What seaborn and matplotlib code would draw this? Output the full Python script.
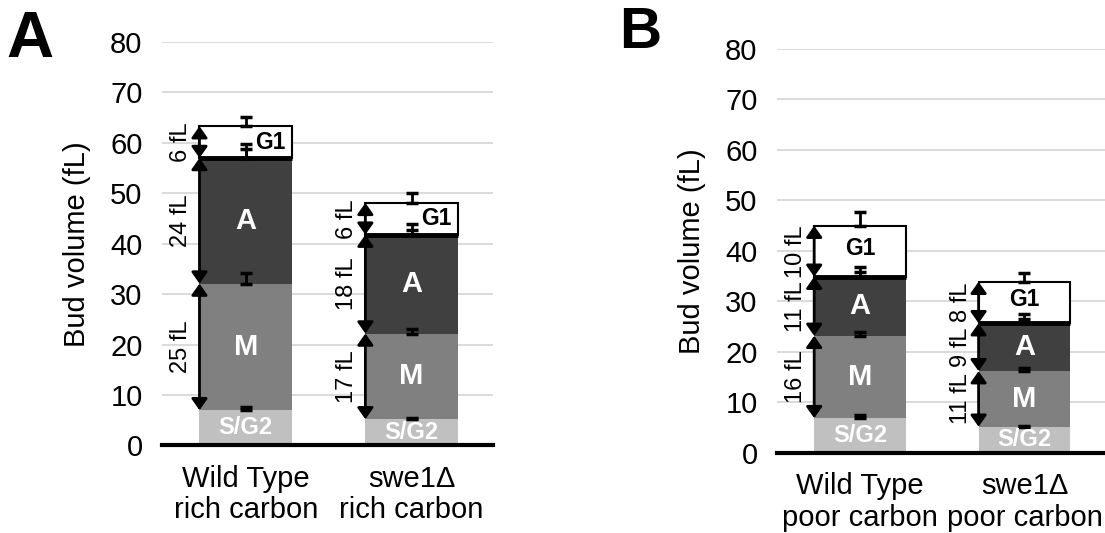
import numpy as np
import pandas as pd
import matplotlib
matplotlib.use("Agg")
import matplotlib.pyplot as plt
import seaborn as sns

# Panel A: rich carbon (cumulative tops of each phase)
strains_a = ["Wild Type\nrich carbon", "swe1\u0394\nrich carbon"]
sg2_top_a = [7.0, 5.2]
m_top_a = [32.1, 22.2]
a_top_a = [57.0, 41.8]
g1_top_a = [63.3, 48.1]
# error bar cap positions
sg2_cap_a = [7.7, 5.5]
m_cap_a = [34.1, 23.1]
a_cap_a = [59.8, 43.9]
a_cap2_a = [58.8, 42.8]
g1_cap_a = [65.1, 50.1]
fl_labels_a = [["25 fL", "24 fL", "6 fL"], ["17 fL", "18 fL", "6 fL"]]

# Panel B: poor carbon
strains_b = ["Wild Type\npoor carbon", "swe1\u0394\npoor carbon"]
sg2_top_b = [6.9, 5.2]
m_top_b = [23.2, 16.2]
a_top_b = [34.9, 25.7]
g1_top_b = [45.0, 33.9]
sg2_cap_b = [7.5, 5.4]
m_cap_b = [24.0, 16.9]
a_cap_b = [36.9, 27.5]
a_cap2_b = [35.9, 26.5]
g1_cap_b = [47.8, 35.6]
fl_labels_b = [["16 fL", "11 fL", "10 fL"], ["11 fL", "9 fL", "8 fL"]]

phases = ["S/G2", "M", "A", "G1"]
phase_colors = {"S/G2": "#c0c0c0", "M": "#808080", "A": "#404040", "G1": "#ffffff"}
bar_w = 0.558

sns.set_theme(style="whitegrid")
plt.rcParams["font.family"] = ["Liberation Sans", "DejaVu Sans"]
plt.rcParams["text.color"] = "black"
plt.rcParams["axes.labelcolor"] = "black"
plt.rcParams["xtick.color"] = "black"
plt.rcParams["ytick.color"] = "black"


def draw_panel(ax, strains, tops, caps, fl_labels, g1_right):
    n = len(strains)
    bottoms = [np.zeros(n)] + [np.array(t) for t in tops[:-1]]
    rows = []
    for p, b, t in zip(phases, bottoms, tops):
        for s, bb, tt in zip(strains, b, t):
            rows.append({"strain": s, "phase": p, "bottom": bb, "height": tt - bb, "top": tt})
    df = pd.DataFrame(rows)

    for p in phases:
        sub = df[df["phase"] == p]
        edge = "black" if p == "G1" else "none"
        lw = 1.5 if p == "G1" else 0
        sns.barplot(data=sub, x="strain", y="height", order=strains, bottom=sub["bottom"].values,
                    color=phase_colors[p], saturation=1, width=bar_w, errorbar=None,
                    edgecolor=edge, linewidth=lw, ax=ax, zorder=2)

    xs = np.arange(n)
    # thick line between A and G1
    ax.hlines(tops[2], xs - bar_w / 2, xs + bar_w / 2, colors="black", lw=3.5, zorder=3)

    # error bars (upper only)
    for top, cap in zip([tops[0], tops[1], tops[2], tops[2], tops[3]], caps):
        ax.errorbar(xs, top, yerr=[np.zeros(n), np.array(cap) - np.array(top)], fmt="none",
                    ecolor="black", elinewidth=2, capsize=4.5, capthick=2.5, zorder=4)

    # segment labels
    for i in range(n):
        mids = [(b[i] + t[i]) / 2 for b, t in zip(bottoms, tops)]
        ax.text(i, mids[0], "S/G2", color="white", fontsize=17, fontweight="bold",
                ha="center", va="center", zorder=5)
        ax.text(i, mids[1], "M", color="white", fontsize=21, fontweight="bold",
                ha="center", va="center", zorder=5)
        ax.text(i, mids[2], "A", color="white", fontsize=21, fontweight="bold",
                ha="center", va="center", zorder=5)
        if g1_right:
            ax.text(i + bar_w / 2 - 0.04, mids[3], "G1", color="black", fontsize=16.5,
                    fontweight="bold", ha="right", va="center", zorder=5)
        else:
            ax.text(i, mids[3] + 0.6, "G1", color="black", fontsize=16.5,
                    fontweight="bold", ha="center", va="center", zorder=5)

        # double arrows with fL sizes
        xl = i - bar_w / 2
        for k in range(3):
            lo, hi = bottoms[k + 1][i], tops[k + 1][i]
            ax.annotate("", xy=(xl, hi), xytext=(xl, lo),
                        arrowprops=dict(arrowstyle="<|-|>,head_length=0.34,head_width=0.24",
                                        color="black", lw=2, shrinkA=0, shrinkB=0,
                                        mutation_scale=20), zorder=6)
            ax.annotate(fl_labels[i][k], xy=(xl, (lo + hi) / 2), xytext=(-13, 0),
                        textcoords="offset points", rotation=90, ha="center", va="center",
                        fontsize=17, zorder=6)

    ax.set_ylim(0, 80)
    ax.set_yticks(range(0, 81, 10))
    ax.set_xlim(-0.505, 1.49)
    ax.set_xlabel("")
    ax.set_ylabel("Bud volume (fL)", fontsize=21)
    ax.yaxis.set_label_coords(-0.216, 0.5)
    ax.grid(axis="x", visible=False)
    ax.grid(axis="y", color="#d4d4d4", lw=1.2)
    ax.set_axisbelow(True)
    for side in ["left", "right", "top"]:
        ax.spines[side].set_visible(False)
    ax.spines["bottom"].set_color("black")
    ax.spines["bottom"].set_linewidth(3)
    ax.spines["bottom"].set_zorder(5)
    ax.tick_params(axis="y", length=0, pad=14, labelsize=21, colors="black")
    ax.tick_params(axis="x", length=0, pad=14, labelsize=21, colors="black")
    for lab in ax.get_xticklabels():
        lab.set_linespacing(1.15)


fig = plt.figure(figsize=(11.05, 5.33), dpi=100)
ax_a = fig.add_axes([0.1466, 0.1642, 0.2995, 0.757])
ax_b = fig.add_axes([0.7032, 0.1501, 0.2968, 0.758])

draw_panel(ax_a, strains_a, [sg2_top_a, m_top_a, a_top_a, g1_top_a],
           [sg2_cap_a, m_cap_a, a_cap_a, a_cap2_a, g1_cap_a], fl_labels_a, g1_right=True)
draw_panel(ax_b, strains_b, [sg2_top_b, m_top_b, a_top_b, g1_top_b],
           [sg2_cap_b, m_cap_b, a_cap_b, a_cap2_b, g1_cap_b], fl_labels_b, g1_right=False)

fig.text(0.006, 0.893, "A", fontsize=47, fontweight="bold", ha="left", va="baseline")
fig.text(0.560, 0.910, "B", fontsize=42, fontweight="bold", ha="left", va="baseline")

fig.savefig("out.png", dpi=100)
